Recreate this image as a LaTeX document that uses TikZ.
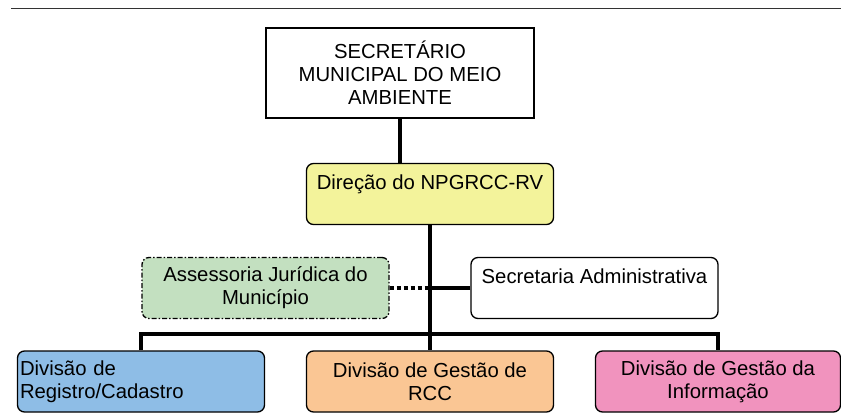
\documentclass[tikz,border=0pt]{standalone}
\usepackage{fontspec}
\setmainfont{Liberation Sans}
\usetikzlibrary{positioning,calc}
\definecolor{dirfill}{RGB}{243,243,155}
\definecolor{jurfill}{RGB}{195,224,192}
\definecolor{regfill}{RGB}{142,189,230}
\definecolor{rccfill}{RGB}{250,198,148}
\definecolor{inffill}{RGB}{241,147,190}
\begin{document}
\begin{tikzpicture}[x=1pt, y=-1pt,
    unit/.style={draw, line width=1.3pt, rounded corners=7pt, minimum width=247pt, minimum height=61pt,
        inner sep=0pt, align=center, font=\fontsize{20.3}{23}\selectfont},
    link/.style={line width=4pt}
]
\useasboundingbox (0,0) rectangle (841,417);
\draw[line width=1pt, black!80] (11,9) -- (841,9);

\node[unit, rounded corners=0pt, minimum width=268pt, minimum height=90pt] (sec) at (400,73) {SECRETÁRIO\\MUNICIPAL DO MEIO\\AMBIENTE};
\node[unit, fill=dirfill] (dir) at (430,194) {Direção do NPGRCC-RV\\\mbox{}};
\node[unit, fill=jurfill, dash pattern=on 5pt off 2pt on 1.5pt off 2pt] (jur) at (265.5,288) {Assessoria Jurídica do\\Município};
\node[unit] (adm) at (594.5,288) {Secretaria Administrativa\\\mbox{}};
\node[unit, fill=regfill, align=left, text width=242pt] (reg) at (141,381.5) {Divisão de\\Registro/Cadastro};
\node[unit, fill=rccfill] (rcc) at (430,381.5) {Divisão de Gestão de\\RCC};
\node[unit, fill=inffill, minimum width=245pt] (inf) at (718,381.5) {Divisão de Gestão da\\Informação};

\draw[link] (sec.south) -- (sec.south |- dir.north);
\draw[link] (dir.south) -- (rcc.north);
\draw[link] (reg.north) -- ++(0,-16) -| (inf.north);
\draw[link] (adm.west) -- (adm.west -| dir.south);
\draw[link, dash pattern=on 4pt off 3pt] (jur.east) -- (jur.east -| dir.south);
\end{tikzpicture}
\end{document}
